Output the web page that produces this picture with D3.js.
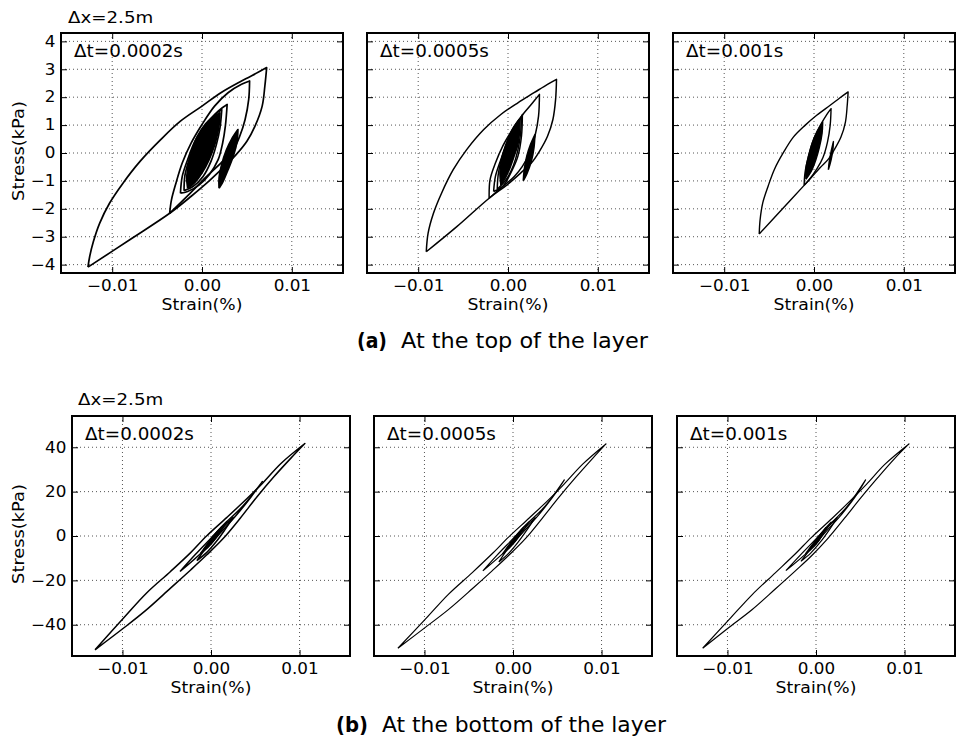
<!DOCTYPE html>
<html>
<head>
<meta charset="utf-8">
<script src="https://cdn.jsdelivr.net/npm/d3@7"></script>
<style>
  body { margin: 0; background: #fff; }
  svg { display: block; font-family: "DejaVu Sans", sans-serif; }
  .grid line { stroke: #555; stroke-width: 1; stroke-dasharray: 1,3; }
  .axis line { stroke: #000; stroke-width: 1; }
  .axis text { font-size: 15px; fill: #000; font-family: "DejaVu Sans", sans-serif; }
</style>
</head>
<body>
<svg id="chart" width="958" height="739"></svg>
<script>
// ticks and labels
const strainTicks = [-0.01, 0, 0.01];
const stressTicksTop = [-4, -3, -2, -1, 0, 1, 2, 3, 4];
const stressTicksBottom = [-40, -20, 0, 20, 40];
const timeSteps = ["Δt=0.0002s", "Δt=0.0005s", "Δt=0.001s"];
const spacingLabel = "Δx=2.5m";
const captions = [["(a)", "At the top of the layer"], ["(b)", "At the bottom of the layer"]];

// each loop = [loading branch, unloading branch], points are [strain(%), stress(kPa)]
const top0002 = [
  [[[-0.0127,-4.09],[-0.0125,-3.7],[-0.0121,-3.18],[-0.0114,-2.52],[-0.0103,-1.8],[-0.0088,-1.08],[-0.0069,-0.3],[-0.0046,0.48],[-0.0024,1.14],[0.0000,1.68],[0.0021,2.16],[0.0044,2.58],[0.0063,2.9],[0.0072,3.06]],
   [[0.0072,3.06],[0.0070,2.4],[0.0067,1.68],[0.0059,0.96],[0.0050,0.42],[0.0038,-0.06],[0.0027,-0.42],[0.0008,-1.0],[-0.0012,-1.55],[-0.0036,-2.16],[-0.0080,-3.1],[-0.0127,-4.09]]],
  [[[-0.0036,-2.16],[-0.0034,-1.68],[-0.0029,-1.08],[-0.0022,-0.36],[-0.0012,0.36],[0.0000,1.02],[0.0014,1.68],[0.0029,2.16],[0.0044,2.46],[0.0053,2.58]],
   [[0.0053,2.58],[0.0052,1.92],[0.0048,1.2],[0.0042,0.6],[0.0035,0.12],[0.0025,-0.24],[0.0005,-0.85],[-0.0015,-1.5],[-0.0036,-2.16]]],
  [[[-0.0024,-1.44],[-0.0022,-0.84],[-0.0016,-0.24],[-0.0007,0.48],[0.0005,1.02],[0.0018,1.5],[0.0028,1.74]],
   [[0.0028,1.74],[0.0026,0.96],[0.0023,0.36],[0.0018,-0.24],[0.0008,-0.78],[-0.0003,-1.14],[-0.0016,-1.38],[-0.0024,-1.44]]],
  [[[-0.0020,-1.35],[-0.0019,-0.8],[-0.0014,-0.2],[-0.0006,0.5],[0.0005,1.05],[0.0015,1.4],[0.0022,1.55]],
   [[0.0022,1.55],[0.0020,0.9],[0.0016,0.3],[0.0010,-0.3],[0.0001,-0.85],[-0.0010,-1.2],[-0.0020,-1.35]]]
];
const top0002Dense = [
  [[[-0.0016,-1.26],[-0.0017,-0.9],[-0.0015,-0.4],[-0.0011,0.1],[-0.0005,0.6],[0.0004,1.05],[0.0013,1.3],[0.0020,1.44]],
   [[0.0020,1.44],[0.0019,1.0],[0.0016,0.5],[0.0011,0.0],[0.0004,-0.5],[-0.0004,-0.9],[-0.0011,-1.15],[-0.0016,-1.26]]],
  [[[0.0019,-1.26],[0.0019,-0.9],[0.0022,-0.4],[0.0027,0.1],[0.0033,0.5],[0.0040,0.84]],
   [[0.0040,0.84],[0.0039,0.4],[0.0035,-0.1],[0.0029,-0.6],[0.0023,-1.05],[0.0019,-1.26]]]
];

const top0005 = [
  [[[-0.0091,-3.54],[-0.0089,-2.88],[-0.0083,-2.16],[-0.0074,-1.44],[-0.0061,-0.6],[-0.0046,0.12],[-0.0027,0.84],[-0.0008,1.38],[0.0011,1.8],[0.0029,2.16],[0.0044,2.46],[0.0054,2.64]],
   [[0.0054,2.64],[0.0053,1.92],[0.0050,1.2],[0.0044,0.6],[0.0035,0.06],[0.0026,-0.36],[0.0014,-0.72],[-0.0001,-1.14],[-0.0021,-1.62],[-0.0057,-2.64],[-0.0091,-3.54]]],
  [[[-0.0021,-1.62],[-0.0020,-0.96],[-0.0014,-0.36],[-0.0006,0.24],[0.0005,0.84],[0.0018,1.44],[0.0029,1.86],[0.0035,2.1]],
   [[0.0035,2.1],[0.0034,1.32],[0.0030,0.6],[0.0024,0.0],[0.0016,-0.48],[0.0007,-0.84],[-0.0008,-1.26],[-0.0021,-1.62]]],
  [[[-0.0016,-1.38],[-0.0014,-0.84],[-0.0008,-0.24],[-0.0001,0.36],[0.0009,0.96],[0.0016,1.38]],
   [[0.0016,1.38],[0.0015,0.6],[0.0011,-0.12],[0.0003,-0.72],[-0.0006,-1.2],[-0.0016,-1.38]]],
  [[[-0.0012,-1.3],[-0.0011,-0.8],[-0.0008,-0.3],[-0.0003,0.25],[0.0004,0.8],[0.0011,1.15],[0.0015,1.3]],
   [[0.0015,1.3],[0.0014,0.7],[0.0011,0.1],[0.0006,-0.45],[-0.0002,-0.95],[-0.0012,-1.3]]]
];
const top0005Dense = [
  [[[-0.0008,-1.14],[-0.0009,-0.7],[-0.0007,-0.25],[-0.0003,0.2],[0.0003,0.7],[0.0009,1.05],[0.00135,1.22]],
   [[0.00135,1.22],[0.0013,0.8],[0.0011,0.3],[0.0007,-0.1],[0.0002,-0.55],[-0.0003,-0.9],[-0.0008,-1.14]]],
  [[[0.0017,-1.0],[0.0018,-0.6],[0.0021,-0.1],[0.0025,0.3],[0.0030,0.66]],
   [[0.0030,0.66],[0.0029,0.2],[0.0026,-0.3],[0.0021,-0.75],[0.0017,-1.0]]]
];

const top001 = [
  [[[-0.0061,-2.9],[-0.0060,-2.39],[-0.0057,-1.78],[-0.0051,-1.18],[-0.0044,-0.58],[-0.0034,0.02],[-0.0023,0.57],[-0.0010,0.99],[0.0003,1.35],[0.0018,1.71],[0.0029,1.98],[0.0038,2.19]],
   [[0.0038,2.19],[0.0037,1.71],[0.0035,1.11],[0.0030,0.57],[0.0023,0.14],[0.0016,-0.22],[0.0007,-0.52],[-0.0003,-0.88],[-0.0011,-1.16],[-0.0034,-1.96],[-0.0061,-2.9]]],
  [[[-0.0011,-1.16],[-0.0010,-0.7],[-0.0006,-0.1],[-0.0001,0.45],[0.0007,0.99],[0.0014,1.37],[0.0019,1.59]],
   [[0.0019,1.59],[0.0018,0.99],[0.0015,0.39],[0.0010,-0.16],[0.0003,-0.58],[-0.0005,-0.94],[-0.0011,-1.16]]]
];
const top001Dense = [
  [[[-0.0009,-0.94],[-0.0009,-0.55],[-0.0006,-0.1],[-0.0002,0.35],[0.0004,0.8],[0.00097,1.11]],
   [[0.00097,1.11],[0.0009,0.7],[0.0006,0.2],[0.0002,-0.25],[-0.0003,-0.65],[-0.0009,-0.94]]],
  [[[0.0016,-0.6],[0.0017,-0.3],[0.0019,0.05],[0.00216,0.41]],
   [[0.00216,0.41],[0.0021,0.1],[0.0019,-0.25],[0.0016,-0.6]]]
];

const bottom0002 = [
  [[[-0.0131,-51.3],[-0.0099,-37.1],[-0.0073,-25.8],[-0.0046,-16.1],[-0.0023,-7.5],[-0.0005,0],[0.0018,8.4],[0.0041,17],[0.0058,23.7],[0.0079,32.7],[0.0106,41.7]],
   [[0.0106,41.7],[0.0090,35],[0.0071,26.7],[0.0052,17.7],[0.0033,8],[0.0014,-1.05],[-0.0005,-8.6],[-0.0023,-15.3],[-0.0046,-23.6],[-0.0073,-33.3],[-0.0099,-41.6],[-0.0131,-51.3]]],
  [[[-0.0035,-16],[-0.0018,-8.5],[0.0000,-1],[0.0018,6.5],[0.0036,13.5],[0.0058,24.5]],
   [[0.0058,24.5],[0.0045,17.5],[0.0030,10],[0.0012,2],[-0.0008,-6.5],[-0.0035,-16]]],
  [[[-0.0016,-11.1],[-0.0006,-5.5],[0.0005,0],[0.0015,4.5],[0.0025,8.4]],
   [[0.0025,8.4],[0.0016,3],[0.0006,-2.5],[-0.0005,-7.5],[-0.0016,-11.1]]],
  [[[-0.0012,-8],[-0.0003,-3],[0.0007,2],[0.0018,6.5]],
   [[0.0018,6.5],[0.0009,1],[-0.0002,-4.5],[-0.0012,-8]]]
];
const bottom0002Dense = [
  [[[-0.0008,-6],[0.0002,-1],[0.0012,4]],
   [[0.0012,4],[0.0003,-2],[-0.0008,-6]]]
];

const bottom0005 = [
  [[[-0.0130,-50.6],[-0.0099,-37.5],[-0.0073,-26.3],[-0.0046,-16.5],[-0.0023,-7.8],[-0.0005,-0.5],[0.0018,8],[0.0041,16.6],[0.0058,23.5],[0.0079,32.5],[0.0105,41.5]],
   [[0.0105,41.5],[0.0090,35],[0.0071,26.5],[0.0052,17.5],[0.0033,8],[0.0014,-1.2],[-0.0005,-8.8],[-0.0023,-15.5],[-0.0046,-23.8],[-0.0073,-33.2],[-0.0099,-41.2],[-0.0130,-50.6]]],
  [[[-0.0034,-15.7],[-0.0018,-8.6],[0.0000,-1.2],[0.0018,6.3],[0.0036,13.3],[0.0058,25.3]],
   [[0.0058,25.3],[0.0045,17.6],[0.0030,10],[0.0012,2],[-0.0008,-6.6],[-0.0034,-15.7]]],
  [[[-0.0016,-11.7],[-0.0006,-5.8],[0.0005,-0.2],[0.0015,4.3],[0.0025,8.3]],
   [[0.0025,8.3],[0.0016,2.9],[0.0006,-2.6],[-0.0005,-7.8],[-0.0016,-11.7]]],
  [[[-0.0012,-8.2],[-0.0003,-3.1],[0.0007,1.9],[0.0018,6.3]],
   [[0.0018,6.3],[0.0009,0.9],[-0.0002,-4.6],[-0.0012,-8.2]]]
];
const bottom0005Dense = [
  [[[-0.0008,-6.2],[0.0002,-1.1],[0.0012,3.9]],
   [[0.0012,3.9],[0.0003,-2.1],[-0.0008,-6.2]]]
];

const bottom001 = [
  [[[-0.0128,-50.6],[-0.0098,-37.6],[-0.0072,-26.4],[-0.0046,-16.6],[-0.0023,-7.9],[-0.0005,-0.6],[0.0018,7.9],[0.0040,16.4],[0.0057,23.3],[0.0078,32.4],[0.0105,41.5]],
   [[0.0105,41.5],[0.0089,35],[0.0070,26.4],[0.0051,17.4],[0.0032,7.9],[0.0013,-1.3],[-0.0005,-8.9],[-0.0023,-15.6],[-0.0046,-23.9],[-0.0072,-33.1],[-0.0098,-41.1],[-0.0128,-50.6]]],
  [[[-0.0034,-15.6],[-0.0018,-8.7],[0.0000,-1.3],[0.0018,6.2],[0.0035,13.2],[0.0056,25.3]],
   [[0.0056,25.3],[0.0044,17.5],[0.0029,9.8],[0.0011,1.9],[-0.0008,-6.7],[-0.0034,-15.6]]],
  [[[-0.0017,-11.4],[-0.0006,-5.7],[0.0004,-0.3],[0.0014,4.2],[0.0024,8.3]],
   [[0.0024,8.3],[0.0015,2.8],[0.0005,-2.7],[-0.0006,-7.7],[-0.0017,-11.4]]],
  [[[-0.0012,-8.1],[-0.0003,-3.2],[0.0007,1.8],[0.0017,6.2]],
   [[0.0017,6.2],[0.0008,0.8],[-0.0002,-4.7],[-0.0012,-8.1]]]
];
const bottom001Dense = [
  [[[-0.0008,-6.1],[0.0002,-1.2],[0.0011,3.8]],
   [[0.0011,3.8],[0.0003,-2.2],[-0.0008,-6.1]]]
];

const svg = d3.select("#chart");
const strainDomain = [-0.0157, 0.0157];
const fmtStrain = d3.format(".2f");
const fmtStress = d3.format("d");
const textStretch = 1.12; // reference glyphs are a little wider than DejaVu at the same height

const rows = [
  { top: 33, h: 240, yDomain: [-4.3, 4.3], yTicks: stressTicksTop, xs: [61, 367, 673], w: 282,
    data: [[top0002, top0002Dense], [top0005, top0005Dense], [top001, top001Dense]], lw: [1.7, 1.5, 1.4],
    labelX: 68, labelY: 22.5, caption: captions[0], captionY: 348, capX: [357, 401], capW: [30, 247] },
  { top: 416, h: 240, yDomain: [-54.1, 54.1], yTicks: stressTicksBottom, xs: [72, 374, 677], w: 278,
    data: [[bottom0002, bottom0002Dense], [bottom0005, bottom0005Dense], [bottom001, bottom001Dense]], lw: [1.5, 1.2, 1.2],
    labelX: 78, labelY: 405, caption: captions[1], captionY: 731.5, capX: [336, 382], capW: [32, 284] }
];

rows.forEach((row, ri) => {
  svg.append("text")
    .attr("transform", `translate(${row.labelX},${row.labelY}) scale(1.14,1)`)
    .attr("font-size", 16)
    .text(spacingLabel);

  row.xs.forEach((px, pi) => drawPanel(px, row, pi, ri));

  // y axis title, first panel only
  svg.append("text")
    .attr("transform", `translate(24,${row.top + row.h / 2 - 2}) rotate(-90) scale(1.15,1)`)
    .attr("text-anchor", "middle")
    .attr("font-size", 15.5)
    .text("Stress(kPa)");

  svg.append("text")
    .attr("x", row.capX[0]).attr("y", row.captionY)
    .attr("font-size", 21).attr("font-weight", "bold")
    .attr("textLength", row.capW[0]).attr("lengthAdjust", "spacingAndGlyphs")
    .text(row.caption[0]);
  svg.append("text")
    .attr("x", row.capX[1]).attr("y", row.captionY)
    .attr("font-size", 21)
    .attr("textLength", row.capW[1]).attr("lengthAdjust", "spacingAndGlyphs")
    .text(row.caption[1]);
});

function drawPanel(px, row, pi, ri) {
  const w = row.w, h = row.h;
  const g = svg.append("g").attr("transform", `translate(${px},${row.top})`);
  const x = d3.scaleLinear().domain(strainDomain).range([0, w]);
  const y = d3.scaleLinear().domain(row.yDomain).range([h, 0]);

  // dotted grid
  const grid = g.append("g").attr("class", "grid");
  grid.selectAll("line.v").data(strainTicks).join("line")
    .attr("class", "v")
    .attr("x1", d => x(d)).attr("x2", d => x(d))
    .attr("y1", 0).attr("y2", h);
  grid.selectAll("line.h").data(row.yTicks).join("line")
    .attr("class", "h")
    .attr("x1", 0).attr("x2", w)
    .attr("y1", d => y(d)).attr("y2", d => y(d));

  const clipId = `clip-${ri}-${pi}`;
  g.append("clipPath").attr("id", clipId)
    .append("rect").attr("width", w).attr("height", h);

  const line = d3.line()
    .x(d => x(d[0])).y(d => y(d[1]))
    .curve(d3.curveCatmullRom.alpha(0.5));
  const loopPath = loop => line(loop[0]) + line(loop[1]).replace(/^M/, "L");

  const [loops, dense] = row.data[pi];
  const plot = g.append("g").attr("clip-path", `url(#${clipId})`);
  plot.selectAll("path.loop").data(loops).join("path")
    .attr("class", "loop")
    .attr("d", loopPath)
    .attr("fill", "none")
    .attr("stroke", "#000")
    .attr("stroke-width", row.lw[pi])
    .attr("stroke-linejoin", "round");
  plot.selectAll("path.dense").data(dense).join("path")
    .attr("class", "dense")
    .attr("d", loopPath)
    .attr("fill", "#000")
    .attr("stroke", "#000")
    .attr("stroke-width", row.lw[pi])
    .attr("stroke-linejoin", "round");

  // inward ticks on all four sides
  const stretch = a => a.selectAll("text").attr("transform", `scale(${textStretch},1)`);
  g.append("g").attr("class", "axis")
    .attr("transform", `translate(0,${h})`)
    .call(d3.axisBottom(x).tickValues(strainTicks).tickSize(-6).tickPadding(7).tickFormat(fmtStrain))
    .call(a => a.select(".domain").remove())
    .call(stretch);
  g.append("g").attr("class", "axis")
    .call(d3.axisTop(x).tickValues(strainTicks).tickSize(-6).tickFormat(""))
    .call(a => a.select(".domain").remove());
  g.append("g").attr("class", "axis")
    .call(d3.axisLeft(y).tickValues(row.yTicks).tickSize(-6).tickPadding(5)
      .tickFormat(pi === 0 ? fmtStress : ""))
    .call(a => a.select(".domain").remove())
    .call(stretch);
  g.append("g").attr("class", "axis")
    .attr("transform", `translate(${w},0)`)
    .call(d3.axisRight(y).tickValues(row.yTicks).tickSize(-6).tickFormat(""))
    .call(a => a.select(".domain").remove());

  g.append("rect")
    .attr("width", w).attr("height", h)
    .attr("fill", "none").attr("stroke", "#000").attr("stroke-width", 2);

  g.append("text")
    .attr("transform", `translate(13,24) scale(1.08,1)`)
    .attr("font-size", 17)
    .text(timeSteps[pi]);

  g.append("text")
    .attr("transform", `translate(${w / 2},${h + 36.5}) scale(1.15,1)`)
    .attr("text-anchor", "middle")
    .attr("font-size", 15)
    .text("Strain(%)");
}
</script>
</body>
</html>
